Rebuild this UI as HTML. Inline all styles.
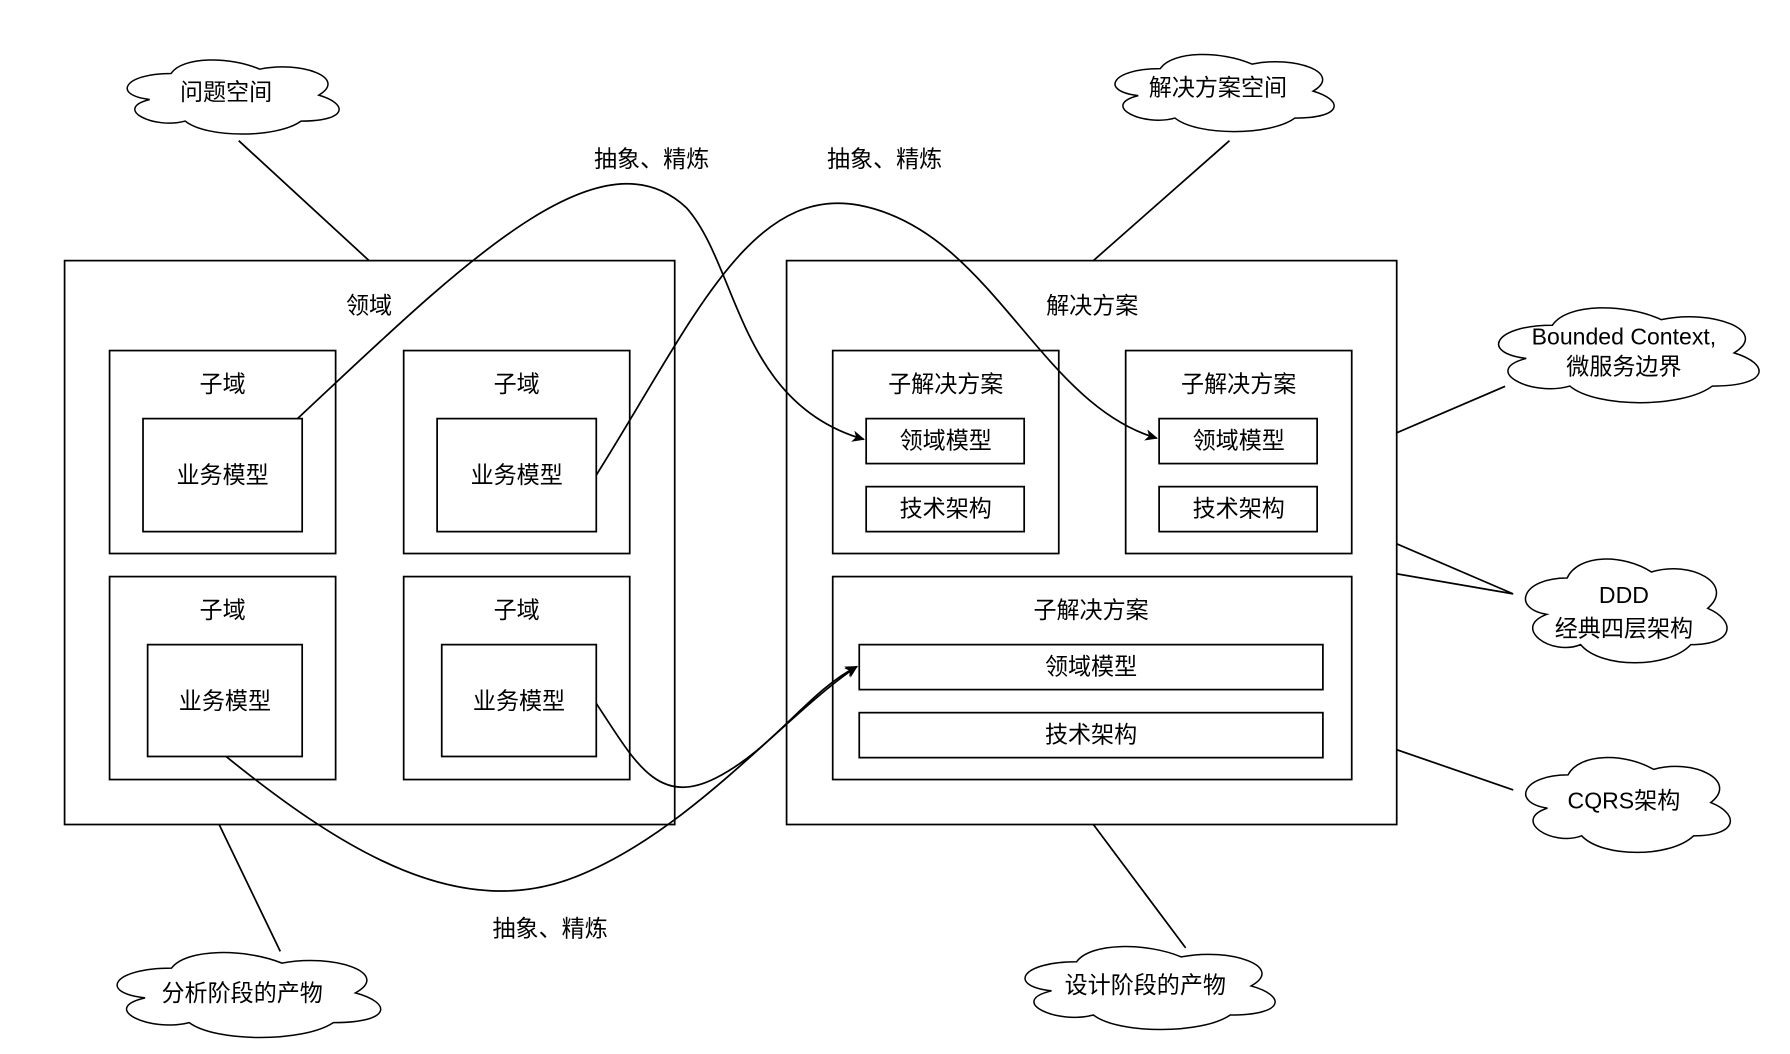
<!DOCTYPE html>
<html><head><meta charset="utf-8"><style>
html,body{margin:0;padding:0;background:#fff;}
svg{display:block;}
text{font-family:"Liberation Sans","Noto Sans CJK SC",sans-serif;font-size:20px;fill:#000;text-anchor:middle;dominant-baseline:central;}
.c{fill:#fff;stroke:#000;stroke-width:1.5px;}
</style></head><body>
<svg width="1790" height="1054" viewBox="0 0 1552 914" preserveAspectRatio="none" xmlns="http://www.w3.org/2000/svg">
<defs>
<marker id="ar" markerWidth="12" markerHeight="12" refX="10" refY="5" orient="auto" markerUnits="userSpaceOnUse"><path d="M0,0 L11,5 L0,10 L3,5 Z" fill="#000"/></marker>
</defs>
<g fill="none" stroke="#000" stroke-width="1.5">
<path d="M207,122 L320,226 M1066,122 L948,226 M1172,392 L1305,335 M888,442 L1312,515 M1142,442 L1312,515 M1147,628 L1312,685 M190,715 L243,825 M948,715 L1028,822"/>
<rect x="56" y="226" width="529" height="489" fill="#fff"/>
<rect x="682" y="226" width="529" height="489" fill="#fff"/>
<rect x="95" y="304" width="196" height="176"/>
<rect x="350" y="304" width="196" height="176"/>
<rect x="95" y="500" width="196" height="176"/>
<rect x="350" y="500" width="196" height="176"/>
<rect x="124" y="363" width="138" height="98"/>
<rect x="379" y="363" width="138" height="98"/>
<rect x="128" y="559" width="134" height="97"/>
<rect x="383" y="559" width="134" height="97"/>
<rect x="722" y="304" width="196" height="176"/>
<rect x="976" y="304" width="196" height="176"/>
<rect x="751" y="363" width="137" height="39"/>
<rect x="751" y="422" width="137" height="39"/>
<rect x="1005" y="363" width="137" height="39"/>
<rect x="1005" y="422" width="137" height="39"/>
<rect x="722" y="500" width="450" height="176"/>
<rect x="745" y="559" width="402" height="39"/>
<rect x="745" y="618" width="402" height="39"/>
<path d="M258,363 C400,230 520,110 595,180 C640,230 640,350 749,381" marker-end="url(#ar)"/>
<path d="M517,412 C600,280 650,160 745,178 C860,200 900,350 1003,380" marker-end="url(#ar)"/>
<path d="M517,610 C550,660 570,700 620,675 C670,650 700,600 743,578" marker-end="url(#ar)"/>
<path d="M196,656 C300,740 400,800 500,760 C600,720 680,620 743,578" marker-end="url(#ar)"/>
</g>
<path class="c" vector-effect="non-scaling-stroke" transform="translate(97,45) scale(205,75)" d="M0.25,0.25 C0.05,0.25 0,0.5 0.16,0.55 C0,0.66 0.18,0.9 0.31,0.8 C0.4,1 0.7,1 0.8,0.8 C1,0.8 1,0.6 0.875,0.5 C1,0.3 0.8,0.1 0.625,0.2 C0.5,0.05 0.3,0.05 0.25,0.25 Z"/>
<path class="c" vector-effect="non-scaling-stroke" transform="translate(953,40) scale(212,78)" d="M0.25,0.25 C0.05,0.25 0,0.5 0.16,0.55 C0,0.66 0.18,0.9 0.31,0.8 C0.4,1 0.7,1 0.8,0.8 C1,0.8 1,0.6 0.875,0.5 C1,0.3 0.8,0.1 0.625,0.2 C0.5,0.05 0.3,0.05 0.25,0.25 Z"/>
<path class="c" vector-effect="non-scaling-stroke" transform="translate(1283,258) scale(252,96)" d="M0.25,0.25 C0.05,0.25 0,0.5 0.16,0.55 C0,0.66 0.18,0.9 0.31,0.8 C0.4,1 0.7,1 0.8,0.8 C1,0.8 1,0.6 0.875,0.5 C1,0.3 0.8,0.1 0.625,0.2 C0.5,0.05 0.3,0.05 0.25,0.25 Z"/>
<path class="c" vector-effect="non-scaling-stroke" transform="translate(1310,475) scale(195,105)" d="M0.25,0.25 C0.05,0.25 0,0.5 0.16,0.55 C0,0.66 0.18,0.9 0.31,0.8 C0.4,1 0.7,1 0.8,0.8 C1,0.8 1,0.6 0.875,0.5 C1,0.3 0.8,0.1 0.625,0.2 C0.5,0.05 0.3,0.05 0.25,0.25 Z"/>
<path class="c" vector-effect="non-scaling-stroke" transform="translate(1310,648) scale(198,96)" d="M0.25,0.25 C0.05,0.25 0,0.5 0.16,0.55 C0,0.66 0.18,0.9 0.31,0.8 C0.4,1 0.7,1 0.8,0.8 C1,0.8 1,0.6 0.875,0.5 C1,0.3 0.8,0.1 0.625,0.2 C0.5,0.05 0.3,0.05 0.25,0.25 Z"/>
<path class="c" vector-effect="non-scaling-stroke" transform="translate(85,818) scale(255,86)" d="M0.25,0.25 C0.05,0.25 0,0.5 0.16,0.55 C0,0.66 0.18,0.9 0.31,0.8 C0.4,1 0.7,1 0.8,0.8 C1,0.8 1,0.6 0.875,0.5 C1,0.3 0.8,0.1 0.625,0.2 C0.5,0.05 0.3,0.05 0.25,0.25 Z"/>
<path class="c" vector-effect="non-scaling-stroke" transform="translate(873,813) scale(242,84)" d="M0.25,0.25 C0.05,0.25 0,0.5 0.16,0.55 C0,0.66 0.18,0.9 0.31,0.8 C0.4,1 0.7,1 0.8,0.8 C1,0.8 1,0.6 0.875,0.5 C1,0.3 0.8,0.1 0.625,0.2 C0.5,0.05 0.3,0.05 0.25,0.25 Z"/>
<text x="196" y="80">问题空间</text>
<text x="1056" y="76">解决方案空间</text>
<text x="1408" y="292">Bounded Context,</text>
<text x="1408" y="318">微服务边界</text>
<text x="1408" y="516">DDD</text>
<text x="1408" y="545">经典四层架构</text>
<text x="1408" y="694">CQRS架构</text>
<text x="210" y="861">分析阶段的产物</text>
<text x="993" y="854">设计阶段的产物</text>
<text x="565" y="138">抽象、精炼</text>
<text x="767" y="138">抽象、精炼</text>
<text x="477" y="805">抽象、精炼</text>
<text x="320" y="265">领域</text>
<text x="947" y="265">解决方案</text>
<text x="193" y="333">子域</text>
<text x="448" y="333">子域</text>
<text x="193" y="529">子域</text>
<text x="448" y="529">子域</text>
<text x="193" y="412">业务模型</text>
<text x="448" y="412">业务模型</text>
<text x="195" y="608">业务模型</text>
<text x="450" y="608">业务模型</text>
<text x="820" y="333">子解决方案</text>
<text x="1074" y="333">子解决方案</text>
<text x="946" y="529">子解决方案</text>
<text x="820" y="382">领域模型</text>
<text x="820" y="441">技术架构</text>
<text x="1074" y="382">领域模型</text>
<text x="1074" y="441">技术架构</text>
<text x="946" y="578">领域模型</text>
<text x="946" y="637">技术架构</text>
</svg>
</body></html>
